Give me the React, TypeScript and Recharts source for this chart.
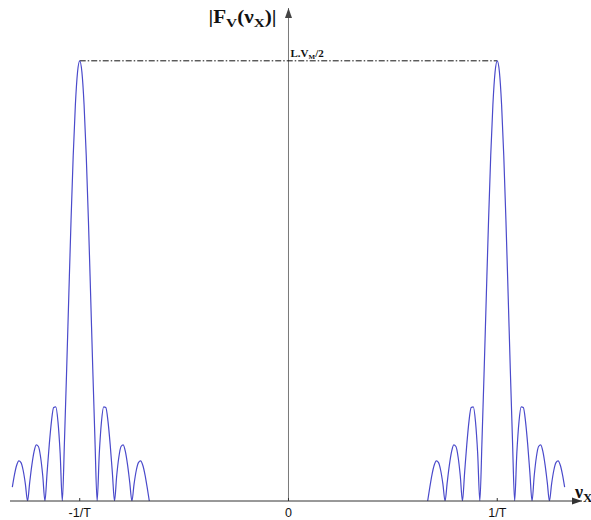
import React from "react";
import {
  LineChart,
  Line,
  XAxis,
  YAxis,
  ReferenceLine,
  ReferenceDot,
} from "recharts";

// frequency in units of 1/T, magnitude in units of L.V_M/2
const peakCenters = [-1, 1];
const zeroSpacing = 1 / 12; // distance between sinc zeros, in 1/T
const outerExtent = 3.875; // the outer tail stops just before the 4th zero

// offsets from the peak, in units of zeroSpacing
const lobeOffset = [
  0, 0.125, 0.25, 0.375, 0.5, 0.625, 0.75, 0.875, 1, 1.125, 1.25, 1.375, 1.5,
  1.625, 1.75, 1.875, 2, 2.125, 2.25, 2.375, 2.5, 2.625, 2.75, 2.875, 3, 3.125,
  3.25, 3.375, 3.5, 3.625, 3.75, 3.875, 4,
];
const lobeMagnitude = [
  1, 0.9745, 0.9003, 0.7842, 0.6366, 0.4705, 0.3001, 0.1392, 0, 0.1083, 0.1801,
  0.2139, 0.2122, 0.181, 0.1286, 0.065, 0, 0.0573, 0.1, 0.1238, 0.1273, 0.112,
  0.0819, 0.0424, 0, 0.039, 0.0693, 0.0871, 0.091, 0.0811, 0.06, 0.0314, 0,
];

const tickValues = [-1, 0, 1];
const tickLabels = ["-1/T", "0", "1/T"];

const X_MIN = -1.334;
const X_MAX = 1.406;
const Y_MAX = 1.12;

const CURVE = "#4a4acb";
const SERIF = "'Liberation Serif', 'DejaVu Serif', serif";
const SANS = "'Liberation Sans', Arial, sans-serif";

type Pt = { nu: number; mag: number };

function buildLobe(center: number): Pt[] {
  const out = Math.sign(center);
  const pts: Pt[] = [];
  lobeOffset.forEach((u, i) => {
    pts.push({ nu: center - out * u * zeroSpacing, mag: lobeMagnitude[i] });
    if (u > 0 && u <= outerExtent) {
      pts.push({ nu: center + out * u * zeroSpacing, mag: lobeMagnitude[i] });
    }
  });
  return pts.sort((a, b) => a.nu - b.nu);
}

const lobes = peakCenters.map(buildLobe);

function AxisTick(props: any) {
  const { x, y, payload } = props;
  const i = tickValues.indexOf(payload.value);
  return (
    <g>
      <line x1={x} x2={x} y1={y - 3} y2={y} stroke="#333" />
      <text
        x={x}
        y={y + 16}
        textAnchor="middle"
        fontFamily={SANS}
        fontSize={12.5}
        fill="#111"
      >
        {tickLabels[i]}
      </text>
    </g>
  );
}

function TopArrow(props: any) {
  const { cx, cy } = props;
  return (
    <g>
      <path d={`M${cx},${cy} L${cx - 3.5},${cy + 10} L${cx + 3.5},${cy + 10} Z`} fill="#444" />
      <text
        x={cx - 12}
        y={cy + 15}
        textAnchor="end"
        textLength={68}
        lengthAdjust="spacingAndGlyphs"
        fontFamily={SERIF}
        fontWeight="bold"
        fontSize={18}
        fill="#111"
      >
        |F
        <tspan fontSize={13} dy={4}>V</tspan>
        <tspan dy={-4}>(ν</tspan>
        <tspan fontSize={13} dy={4}>X</tspan>
        <tspan dy={-4}>)|</tspan>
      </text>
    </g>
  );
}

function RightArrow(props: any) {
  const { cx, cy } = props;
  return (
    <g>
      <path d={`M${cx},${cy} L${cx - 10},${cy - 3.5} L${cx - 10},${cy + 3.5} Z`} fill="#333" />
      <text
        x={cx - 7}
        y={cy - 3}
        fontFamily={SERIF}
        fontWeight="bold"
        fontSize={18}
        fill="#111"
      >
        ν<tspan fontSize={13} dy={4}>X</tspan>
      </text>
    </g>
  );
}

function PeakLabel(props: any) {
  const { cx, cy } = props;
  return (
    <text
      x={cx + 2}
      y={cy - 4}
      fontFamily={SERIF}
      fontWeight="bold"
      fontSize={11}
      fill="#111"
    >
      L.V<tspan fontSize={7} dy={2}>M</tspan>
      <tspan dy={-2}>/2</tspan>
    </text>
  );
}

export default function App() {
  return (
    <div
      style={{
        position: "absolute",
        left: 0,
        top: 0,
        width: 591,
        height: 520,
        background: "#fff",
      }}
    >
      <LineChart width={591} height={520} margin={{ top: 8, right: 9, bottom: 0, left: 10 }}>
        <XAxis
          dataKey="nu"
          type="number"
          domain={[X_MIN, X_MAX]}
          ticks={tickValues}
          allowDataOverflow
          height={19}
          tickSize={0}
          tickMargin={0}
          tickLine={false}
          axisLine={{ stroke: "#333" }}
          tick={<AxisTick />}
        />
        <YAxis hide type="number" domain={[0, Y_MAX]} allowDataOverflow />
        <ReferenceLine x={0} stroke="#7a7a7a" ifOverflow="visible" />
        <ReferenceLine
          segment={[
            { x: peakCenters[0], y: 1 },
            { x: peakCenters[1], y: 1 },
          ]}
          stroke="#111"
          strokeDasharray="6 2 1.5 2"
          ifOverflow="visible"
        />
        {lobes.map((d, i) => (
          <Line
            key={i}
            data={d}
            dataKey="mag"
            type="monotone"
            stroke={CURVE}
            strokeWidth={1.2}
            dot={false}
            activeDot={false}
            isAnimationActive={false}
          />
        ))}
        <ReferenceDot x={0} y={Y_MAX} r={0} ifOverflow="visible" shape={TopArrow} />
        <ReferenceDot x={X_MAX} y={0} r={0} ifOverflow="visible" shape={RightArrow} />
        <ReferenceDot x={0} y={1} r={0} ifOverflow="visible" shape={PeakLabel} />
      </LineChart>
    </div>
  );
}
